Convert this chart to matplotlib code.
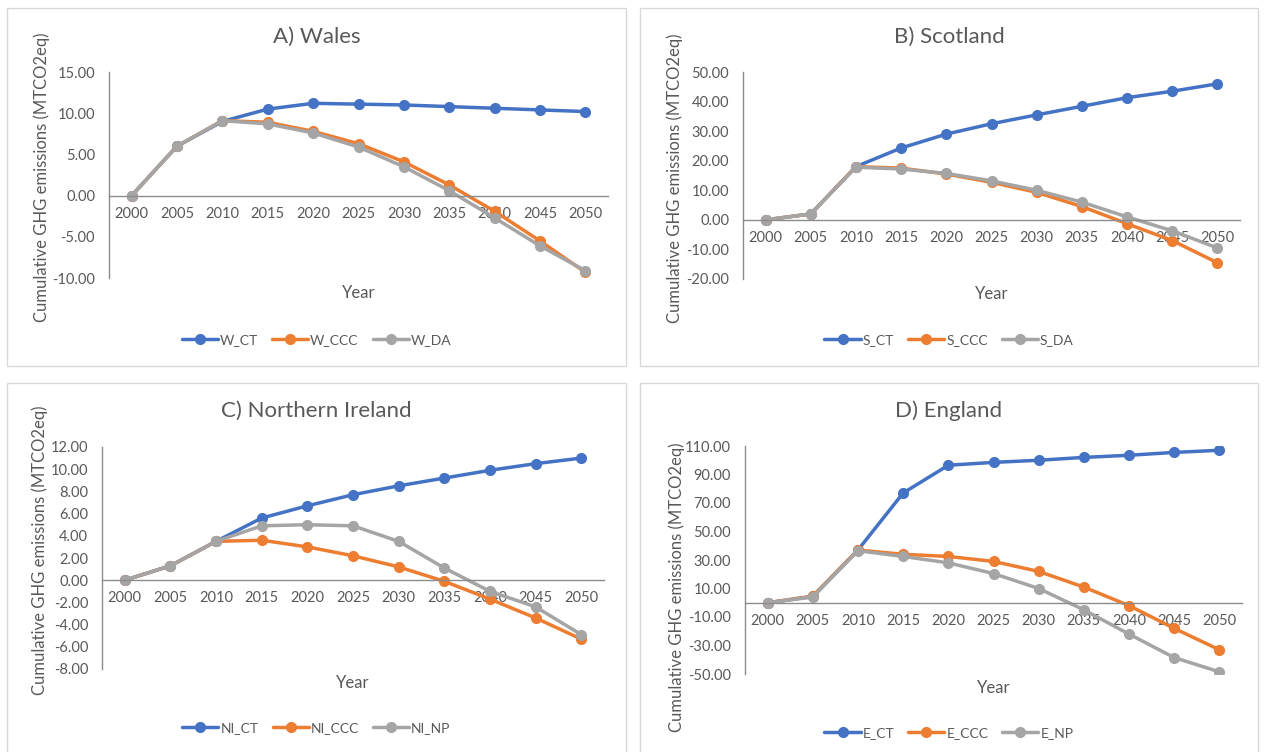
import numpy as np
import matplotlib
matplotlib.use('Agg')
import matplotlib.pyplot as plt
from matplotlib.patches import Rectangle
from matplotlib.ticker import FormatStrFormatter

plt.rcParams['font.family'] = ['Lato', 'DejaVu Sans']

years = ['2000', '2005', '2010', '2015', '2020', '2025', '2030', '2035', '2040', '2045', '2050']

# A) Wales
w_ct = [0, 6.0, 9.0, 10.5, 11.2, 11.1, 11.0, 10.8, 10.6, 10.4, 10.2]
w_ccc = [0, 6.0, 9.1, 8.9, 7.8, 6.3, 4.1, 1.3, -1.9, -5.5, -9.3]
w_da = [0, 6.0, 9.1, 8.7, 7.6, 5.9, 3.5, 0.6, -2.7, -6.1, -9.1]

# B) Scotland
s_ct = [0, 2.0, 18.0, 24.3, 29.0, 32.5, 35.5, 38.4, 41.3, 43.5, 46.0]
s_ccc = [0, 2.0, 18.0, 17.5, 15.5, 12.7, 9.3, 4.5, -1.3, -7.0, -14.5]
s_da = [0, 2.0, 17.8, 17.2, 15.7, 13.2, 10.0, 6.0, 1.0, -3.7, -9.5]

# C) Northern Ireland
ni_ct = [0, 1.3, 3.5, 5.6, 6.7, 7.7, 8.5, 9.2, 9.9, 10.5, 11.0]
ni_ccc = [0, 1.3, 3.5, 3.6, 3.0, 2.2, 1.2, -0.1, -1.7, -3.4, -5.3]
ni_np = [0, 1.3, 3.5, 4.9, 5.0, 4.9, 3.5, 1.1, -1.0, -2.4, -4.9]

# D) England
e_ct = [0, 4.5, 37.0, 77.0, 96.5, 98.5, 100.0, 102.0, 103.5, 105.5, 107.0]
e_ccc = [0, 4.5, 37.0, 34.0, 32.5, 29.0, 22.0, 11.0, -2.0, -18.0, -33.0]
e_np = [0, 4.0, 36.5, 32.5, 28.0, 20.5, 10.0, -5.0, -22.0, -38.5, -48.5]

colors = ['#4472C4', '#ED7D31', '#A5A5A5']
txt = '#595959'

W, H = 1265, 752
fig = plt.figure(figsize=(W / 100, H / 100), dpi=100)


def fbox(l, t, r, b):
    return [l / W, 1 - b / H, (r - l) / W, (b - t) / H]


panels = [
    dict(title='A) Wales', series=[w_ct, w_ccc, w_da], names=['W_CT', 'W_CCC', 'W_DA'],
         border=(7, 8, 626, 366), plot=(109, 72, 608, 278), ylim=(-10, 15), step=5,
         title_y=37, ylab=(42, 177), year_y=293, leg_y=340),
    dict(title='B) Scotland', series=[s_ct, s_ccc, s_da], names=['S_CT', 'S_CCC', 'S_DA'],
         border=(640, 8, 1258, 366), plot=(743, 72, 1240, 279), ylim=(-20, 50), step=10,
         title_y=37, ylab=(675, 178), year_y=294, leg_y=340),
    dict(title='C) Northern Ireland', series=[ni_ct, ni_ccc, ni_np], names=['NI_CT', 'NI_CCC', 'NI_NP'],
         border=(7, 383, 626, 760), plot=(102, 447, 604, 669), ylim=(-8, 12), step=2,
         title_y=411, ylab=(40, 550), year_y=683, leg_y=728),
    dict(title='D) England', series=[e_ct, e_ccc, e_np], names=['E_CT', 'E_CCC', 'E_NP'],
         border=(640, 383, 1258, 760), plot=(745, 446, 1242, 674), ylim=(-50, 110), step=20,
         title_y=411, ylab=(677, 587), year_y=688, leg_y=733),
]

x = np.arange(len(years))
for p in panels:
    l, t, r, b = p['border']
    fig.add_artist(Rectangle((l / W, 1 - b / H), (r - l) / W, (b - t) / H,
                             transform=fig.transFigure, fill=False, ec='#d9d9d9', lw=1))
    pl, pt, pr, pb = p['plot']
    ax = fig.add_axes(fbox(pl, pt, pr, pb))
    for vals, name, c in zip(p['series'], p['names'], colors):
        ax.plot(x, vals, color=c, lw=2.5, marker='o', ms=7, label=name,
                solid_capstyle='round', solid_joinstyle='round')
    lo, hi = p['ylim']
    ax.set_xlim(-0.5, len(years) - 0.5)
    ax.set_ylim(lo, hi)
    ax.set_yticks(np.arange(lo, hi + 0.1, p['step']))
    ax.yaxis.set_major_formatter(FormatStrFormatter('%.2f'))
    ax.set_xticks(x, years)
    ax.spines['bottom'].set_position(('data', 0))
    for s in ['top', 'right']:
        ax.spines[s].set_visible(False)
    for s in ['left', 'bottom']:
        ax.spines[s].set_color('#8c8c8c')
        ax.spines[s].set_linewidth(1)
    ax.tick_params(length=0, labelsize=10.5, colors=txt)
    ax.tick_params(axis='x', pad=8)
    ax.tick_params(axis='y', pad=10)
    ax.patch.set_alpha(0)

    cx = (l + r) / 2
    fig.text(cx / W, 1 - p['title_y'] / H, p['title'], ha='center', va='center',
             fontsize=16, color=txt)
    fig.text(p['ylab'][0] / W, 1 - p['ylab'][1] / H, 'Cumulative GHG emissions (MTCO2eq)',
             rotation=90, ha='center', va='center', fontsize=12, color=txt)
    fig.text((pl + pr) / 2 / W, 1 - p['year_y'] / H, 'Year', ha='center', va='center',
             fontsize=12, color=txt)
    h, lab = ax.get_legend_handles_labels()
    fig.legend(h, lab, loc='center', bbox_to_anchor=(cx / W, 1 - p['leg_y'] / H), ncol=3,
               frameon=False, fontsize=10, labelcolor=txt, handlelength=2.6,
               handletextpad=0.15, columnspacing=1.0)

fig.savefig('out.png', dpi=100)
